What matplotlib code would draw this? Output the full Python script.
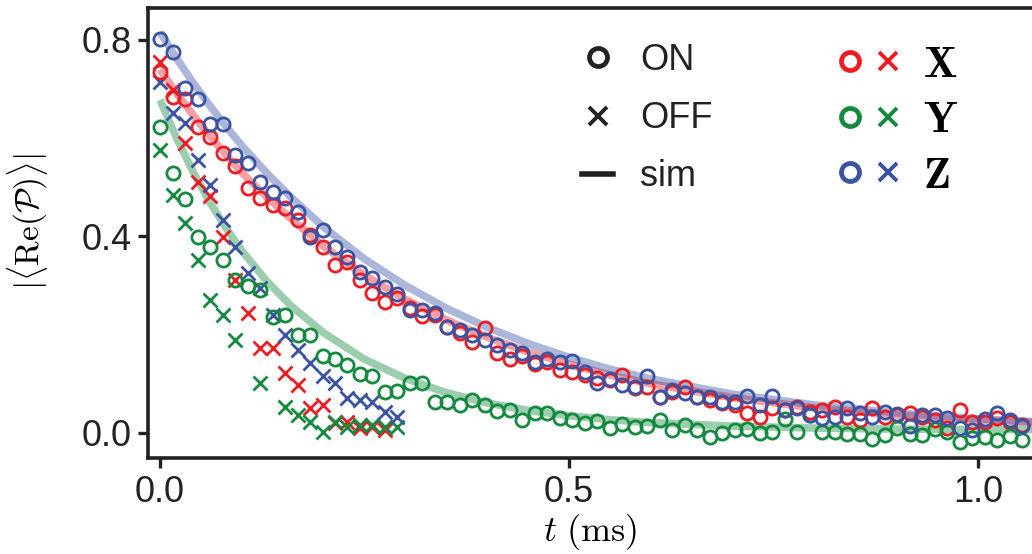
import numpy as np
import matplotlib
matplotlib.use("Agg")
import matplotlib.pyplot as plt
from matplotlib.lines import Line2D
from matplotlib.legend_handler import HandlerTuple

plt.rcParams['font.family'] = ['Liberation Sans', 'DejaVu Sans']
plt.rcParams['mathtext.fontset'] = 'cm'

# measurement times (ms), evenly spaced
dt = 0.01528
t_on = np.arange(70) * dt
t_off = np.arange(20) * dt

# ON data (circles)
x_on = [0.735, 0.684, 0.680, 0.623, 0.603, 0.570, 0.544, 0.499, 0.478, 0.464,
        0.458, 0.434, 0.403, 0.379, 0.342, 0.348, 0.311, 0.285, 0.267, 0.275,
        0.254, 0.238, 0.240, 0.216, 0.204, 0.185, 0.214, 0.163, 0.151, 0.157,
        0.140, 0.145, 0.128, 0.124, 0.118, 0.112, 0.108, 0.118, 0.092, 0.094,
        0.073, 0.083, 0.094, 0.073, 0.067, 0.061, 0.057, 0.041, 0.033, 0.051,
        0.047, 0.053, 0.043, 0.047, 0.053, 0.033, 0.026, 0.051, 0.033, 0.037,
        0.041, 0.033, 0.026, 0.010, 0.047, 0.022, 0.022, 0.031, 0.022, 0.016]
y_on = [0.623, 0.529, 0.476, 0.399, 0.379, 0.352, 0.311, 0.299, 0.291, 0.236,
        0.240, 0.199, 0.199, 0.157, 0.151, 0.138, 0.120, 0.116, 0.083, 0.085,
        0.102, 0.102, 0.063, 0.063, 0.057, 0.067, 0.057, 0.045, 0.047, 0.026,
        0.041, 0.041, 0.031, 0.026, 0.020, 0.024, 0.010, 0.018, 0.012, 0.014,
        0.026, 0.006, 0.016, 0.006, -0.008, 0.000, 0.006, 0.008, 0.000, 0.002,
        0.028, 0.002, 0.037, 0.002, 0.002, -0.002, -0.002, -0.012, -0.004, 0.010,
        -0.002, -0.004, 0.008, 0.002, -0.018, -0.010, -0.008, -0.014, -0.006, -0.014]
z_on = [0.802, 0.776, 0.702, 0.680, 0.629, 0.629, 0.566, 0.550, 0.511, 0.491,
        0.478, 0.450, 0.399, 0.413, 0.379, 0.358, 0.328, 0.316, 0.297, 0.283,
        0.250, 0.250, 0.244, 0.216, 0.210, 0.199, 0.189, 0.179, 0.169, 0.163,
        0.145, 0.151, 0.145, 0.147, 0.124, 0.102, 0.110, 0.098, 0.094, 0.116,
        0.073, 0.088, 0.081, 0.073, 0.073, 0.063, 0.063, 0.075, 0.057, 0.075,
        0.047, 0.051, 0.037, 0.031, 0.033, 0.051, 0.041, 0.033, 0.043, 0.039,
        0.014, 0.037, 0.037, 0.031, 0.010, 0.006, 0.028, 0.041, 0.026, 0.014]

# OFF data (crosses)
x_off = [0.755, 0.698, 0.590, 0.511, 0.482, 0.399, 0.311, 0.244, 0.173, 0.173,
         0.122, 0.098, 0.051, 0.057, 0.020, 0.022, 0.010, 0.012, 0.006]
y_off = [0.576, 0.484, 0.427, 0.352, 0.271, 0.240, 0.189, np.nan, 0.102, np.nan,
         0.053, 0.037, 0.022, 0.002, 0.022, 0.012, 0.016, 0.016, 0.012, 0.012]
z_off = [0.714, 0.651, 0.631, 0.556, 0.505, 0.434, 0.379, 0.326, 0.295, 0.240,
         0.199, 0.169, 0.142, 0.116, 0.102, 0.071, 0.067, 0.063, 0.043, 0.033]

# simulation curves
t_sim = [0, 0.02, 0.04, 0.06, 0.08, 0.10, 0.13, 0.16, 0.20, 0.25, 0.30, 0.35,
         0.40, 0.45, 0.50, 0.55, 0.60, 0.70, 0.80, 0.90, 1.00, 1.07]
x_sim = [0.740, 0.692, 0.648, 0.606, 0.567, 0.530, 0.481, 0.436, 0.380, 0.321,
         0.272, 0.230, 0.195, 0.165, 0.140, 0.118, 0.100, 0.072, 0.051, 0.037,
         0.026, 0.021]
y_sim = [0.678, 0.601, 0.533, 0.472, 0.419, 0.371, 0.310, 0.259, 0.204, 0.150,
         0.111, 0.082, 0.061, 0.046, 0.035, 0.027, 0.021, 0.014, 0.010, 0.008,
         0.007, 0.007]
z_sim = [0.816, 0.763, 0.714, 0.668, 0.625, 0.585, 0.530, 0.480, 0.419, 0.354,
         0.300, 0.254, 0.215, 0.182, 0.154, 0.130, 0.110, 0.079, 0.057, 0.041,
         0.029, 0.023]

red = '#ec1c24'
green = '#138a3e'
blue = '#3a53a4'
k = '#222222'

fig = plt.figure(figsize=(10.32, 5.54), dpi=100)
ax = fig.add_axes([0.1434, 0.1733, 0.8566, 0.8123])

for ts, vs, c in [(t_sim, x_sim, red), (t_sim, y_sim, green), (t_sim, z_sim, blue)]:
    ax.plot(ts, vs, color=c, lw=5.5, alpha=0.42, solid_capstyle='butt', zorder=1)

ms = 9.5
mew = 2.0
for vals, c in [(x_off, red), (y_off, green), (z_off, blue)]:
    ax.plot(t_off[:len(vals)], vals, ls='none', marker='x', ms=ms, mew=mew, color=c, zorder=3)
for vals, c in [(x_on, red), (y_on, green), (z_on, blue)]:
    ax.plot(t_on[:len(vals)], vals, ls='none', marker='o', ms=ms, mew=mew,
            mfc='none', mec=c, zorder=3)

ax.set_xlim(-0.0147, 1.066)
ax.set_ylim(-0.0509, 0.865)
ax.set_xticks([0.0, 0.5, 1.0])
ax.set_yticks([0.0, 0.4, 0.8])
ax.set_xticklabels(['0.0', '0.5', '1.0'])
ax.set_yticklabels(['0.0', '0.4', '0.8'])
ax.tick_params(direction='out', length=7, width=2.4, labelsize=26, color=k,
               labelcolor=k, pad=5)
for s in ['left', 'bottom', 'top']:
    ax.spines[s].set_linewidth(2.6)
    ax.spines[s].set_color(k)
ax.spines['right'].set_visible(False)

ax.set_xlabel(r'$t\ (\mathrm{ms})$', fontsize=26, labelpad=2)
ax.set_ylabel(r'$|\langle \mathrm{Re}(\mathcal{P})\rangle|$', fontsize=24)
ax.yaxis.set_label_coords(-0.111, 0.524)

h1 = [Line2D([], [], ls='none', marker='o', ms=13, mew=3.4, mfc='none', mec=k),
      Line2D([], [], ls='none', marker='x', ms=12.5, mew=2.8, color=k),
      Line2D([], [], color=k, lw=4)]
leg1 = ax.legend(h1, ['ON', 'OFF', 'sim'], loc='upper left', bbox_to_anchor=(0.471, 0.962),
                 frameon=False, fontsize=26, handlelength=0.85, handletextpad=0.75,
                 labelspacing=0.64, borderpad=0)
for txt in leg1.get_texts():
    txt.set_color(k)
ax.add_artist(leg1)

h2 = []
for c in [red, green, blue]:
    o = Line2D([], [], ls='none', marker='o', ms=13, mew=3.4, mfc='none', mec=c)
    x = Line2D([], [], ls='none', marker='x', ms=12.5, mew=2.8, color=c)
    h2.append((o, x))
leg2 = ax.legend(h2, [r'$\mathbf{X}$', r'$\mathbf{Y}$', r'$\mathbf{Z}$'], loc='upper left',
                 bbox_to_anchor=(0.754, 0.968), frameon=False, fontsize=32,
                 handler_map={tuple: HandlerTuple(ndivide=None, pad=0.23)},
                 handlelength=1.45, handletextpad=0.5, labelspacing=0.33, borderpad=0)

fig.savefig('out.png', dpi=100)
